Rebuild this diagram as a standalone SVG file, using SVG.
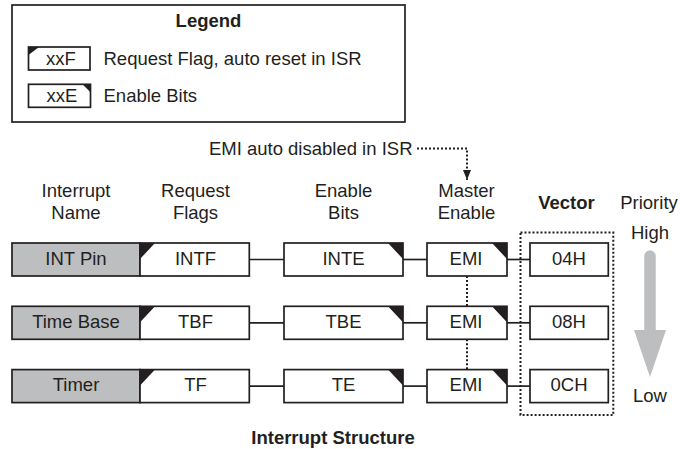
<svg xmlns="http://www.w3.org/2000/svg" width="680" height="449" viewBox="0 0 680 449">
<style>
text{font-family:"Liberation Sans",Arial,Helvetica,sans-serif;font-size:18.5px;fill:#231f20}
.b{font-weight:bold}
.m{text-anchor:middle}
.box{fill:#fff;stroke:#231f20;stroke-width:1.7}
.gray{fill:#bcbec0;stroke:#231f20;stroke-width:1.7}
.tri{fill:#231f20}
.ln{stroke:#231f20;stroke-width:1.7;fill:none}
.dot{stroke:#231f20;stroke-width:2;stroke-dasharray:2 2;fill:none}
</style>
<defs>
<marker id="ah" viewBox="0 0 10 8" refX="10" refY="4" markerWidth="10" markerHeight="8" markerUnits="userSpaceOnUse" orient="auto">
<path d="M0,0 L10,4 L0,8 Z" fill="#231f20"/>
</marker>
</defs>

<g id="legend">
<rect x="12" y="5" width="393" height="117" class="box"/>
<text x="208.5" y="26.7" class="b m">Legend</text>
<rect x="28.5" y="47" width="61.5" height="23" class="box"/>
<polygon points="28.5,47 39,47 28.5,55" class="tri"/>
<text x="61" y="64.5" class="m">xxF</text>
<text x="103.5" y="64.5">Request Flag, auto reset in ISR</text>
<rect x="28.5" y="84.3" width="62" height="23" class="box"/>
<polygon points="82.5,84.3 90.5,84.3 90.5,92.3" class="tri"/>
<text x="62" y="101.7" class="m">xxE</text>
<text x="103.5" y="101.7">Enable Bits</text>
</g>

<g id="headers">
<text x="76" y="197" class="m">Interrupt</text>
<text x="76" y="218.5" class="m">Name</text>
<text x="195.5" y="197" class="m">Request</text>
<text x="195.5" y="218.5" class="m">Flags</text>
<text x="343.5" y="197" class="m">Enable</text>
<text x="343.5" y="218.5" class="m">Bits</text>
<text x="466.5" y="197" class="m">Master</text>
<text x="466.5" y="218.5" class="m">Enable</text>
<text x="566.5" y="209" class="b m">Vector</text>
<text x="649" y="208.5" class="m">Priority</text>
<text x="650" y="238.5" class="m">High</text>
<text x="650" y="401.5" class="m">Low</text>
<text x="412.5" y="155" style="text-anchor:end">EMI auto disabled in ISR</text>
<text x="333" y="443.5" class="b m">Interrupt Structure</text>
</g>

<g id="priority-arrow">
<line x1="650" y1="256" x2="650" y2="333" stroke="#bcbec0" stroke-width="11.5" stroke-linecap="round"/>
<polygon points="634,330 666,330 650,377" fill="#bcbec0"/>
</g>

<g id="vector-group">
<rect x="520.5" y="232.5" width="92.8" height="182.5" class="dot"/>
</g>

<g id="connectors">
<line x1="249.3" y1="259.5" x2="284" y2="259.5" class="ln"/>
<line x1="403" y1="259.5" x2="427" y2="259.5" class="ln"/>
<line x1="507" y1="259.5" x2="530" y2="259.5" class="ln"/>
<line x1="249.3" y1="322.8" x2="284" y2="322.8" class="ln"/>
<line x1="403" y1="322.8" x2="427" y2="322.8" class="ln"/>
<line x1="507" y1="322.8" x2="530" y2="322.8" class="ln"/>
<line x1="249.3" y1="386.1" x2="284" y2="386.1" class="ln"/>
<line x1="403" y1="386.1" x2="427" y2="386.1" class="ln"/>
<line x1="507" y1="386.1" x2="530" y2="386.1" class="ln"/>
<line x1="467" y1="276" x2="467" y2="306.3" class="dot"/>
<line x1="467" y1="339.3" x2="467" y2="369.6" class="dot"/>
<path d="M417,148.5 H467 V180" class="dot" marker-end="url(#ah)"/>
</g>

<g id="int-pin">
<rect x="12" y="243" width="128" height="33" class="gray"/>
<text x="76" y="264.5" class="m">INT Pin</text>
</g>
<g id="intf">
<rect x="140" y="243" width="109.3" height="33" class="box"/>
<polygon points="140,243 155,243 140,259" class="tri"/>
<text x="195.5" y="264.5" class="m">INTF</text>
</g>
<g id="inte">
<rect x="284" y="243" width="119" height="33" class="box"/>
<polygon points="388,243 403,243 403,259" class="tri"/>
<text x="343.5" y="264.5" class="m">INTE</text>
</g>
<g id="emi1">
<rect x="427" y="243" width="80" height="33" class="box"/>
<polygon points="492,243 507,243 507,259" class="tri"/>
<text x="466" y="264.5" class="m">EMI</text>
</g>
<g id="vec04">
<rect x="530" y="243" width="78.3" height="33" class="box"/>
<text x="569" y="264.5" class="m">04H</text>
</g>

<g id="time-base">
<rect x="12" y="306.3" width="128" height="33" class="gray"/>
<text x="76" y="327.8" class="m">Time Base</text>
</g>
<g id="tbf">
<rect x="140" y="306.3" width="109.3" height="33" class="box"/>
<polygon points="140,306.3 155,306.3 140,322.3" class="tri"/>
<text x="195.5" y="327.8" class="m">TBF</text>
</g>
<g id="tbe">
<rect x="284" y="306.3" width="119" height="33" class="box"/>
<polygon points="388,306.3 403,306.3 403,322.3" class="tri"/>
<text x="343.5" y="327.8" class="m">TBE</text>
</g>
<g id="emi2">
<rect x="427" y="306.3" width="80" height="33" class="box"/>
<polygon points="492,306.3 507,306.3 507,322.3" class="tri"/>
<text x="466" y="327.8" class="m">EMI</text>
</g>
<g id="vec08">
<rect x="530" y="306.3" width="78.3" height="33" class="box"/>
<text x="569" y="327.8" class="m">08H</text>
</g>

<g id="timer">
<rect x="12" y="369.6" width="128" height="33" class="gray"/>
<text x="76" y="391.1" class="m">Timer</text>
</g>
<g id="tf">
<rect x="140" y="369.6" width="109.3" height="33" class="box"/>
<polygon points="140,369.6 155,369.6 140,385.6" class="tri"/>
<text x="195.5" y="391.1" class="m">TF</text>
</g>
<g id="te">
<rect x="284" y="369.6" width="119" height="33" class="box"/>
<polygon points="388,369.6 403,369.6 403,385.6" class="tri"/>
<text x="343.5" y="391.1" class="m">TE</text>
</g>
<g id="emi3">
<rect x="427" y="369.6" width="80" height="33" class="box"/>
<polygon points="492,369.6 507,369.6 507,385.6" class="tri"/>
<text x="466" y="391.1" class="m">EMI</text>
</g>
<g id="vec0c">
<rect x="530" y="369.6" width="78.3" height="33" class="box"/>
<text x="569" y="391.1" class="m">0CH</text>
</g>
</svg>
